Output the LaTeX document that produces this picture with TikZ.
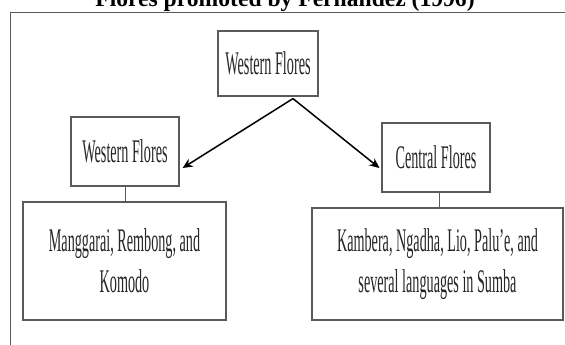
\documentclass[tikz,border=0pt]{standalone}
\usepackage{fontspec}
\setmainfont{Liberation Serif}
\newfontfamily\condfont[FakeStretch=0.43]{Liberation Serif}
\usetikzlibrary{arrows.meta}
\definecolor{boxgray}{RGB}{90,90,90}
\tikzset{
  box/.style={draw=boxgray, line width=1.2pt, fill=white, align=center, inner sep=0pt,
    font=\fontsize{33}{41}\selectfont\condfont, text=black!85},
  arr/.style={line width=1.5pt, -{Stealth[length=10pt,width=9pt]}},
  conn/.style={draw=boxgray, line width=0.9pt},
  frame/.style={draw=boxgray, line width=1pt}
}
\begin{document}
\begin{tikzpicture}[x=1pt,y=-1pt]
\useasboundingbox (0,0) rectangle (565,345);
\node[font=\fontsize{23.6}{26}\selectfont\bfseries, anchor=base] (title) at (285,7) {Flores promoted by Fernandez (1996)};
\coordinate (ftl) at (10,13);
\coordinate (ftr) at (566,13);
\coordinate (fbl) at (10,346);
\draw[frame] (ftr) -- (ftl) -- (fbl);
\node[box, minimum width=100pt, minimum height=65pt] (top) at (268,63.5) {Western Flores};
\node[box, minimum width=108pt, minimum height=69pt] (west) at (125,151.5) {Western Flores};
\node[box, minimum width=108pt, minimum height=69pt] (cent) at (436,157.5) {Central Flores};
\node[box, minimum width=203pt, minimum height=118pt] (mang) at (124.5,261) {Manggarai, Rembong, and\\Komodo};
\node[box, minimum width=251pt, minimum height=112pt] (kamb) at (437.5,264) {Kambera, Ngadha, Lio, Palu’e, and\\several languages in Sumba};
\coordinate (fork) at ([xshift=25pt,yshift=-2pt]top.south);
\draw[arr] (fork) -- ([xshift=3pt,yshift=-16.5pt]west.east);
\draw[arr] (fork) -- ([xshift=-2pt,yshift=-10.5pt]cent.west);
\draw[conn] (west.south) -- (west.south |- mang.north);
\draw[conn] ([xshift=3pt]cent.south) -- ([xshift=3pt]cent.south |- kamb.north);
\end{tikzpicture}
\end{document}
